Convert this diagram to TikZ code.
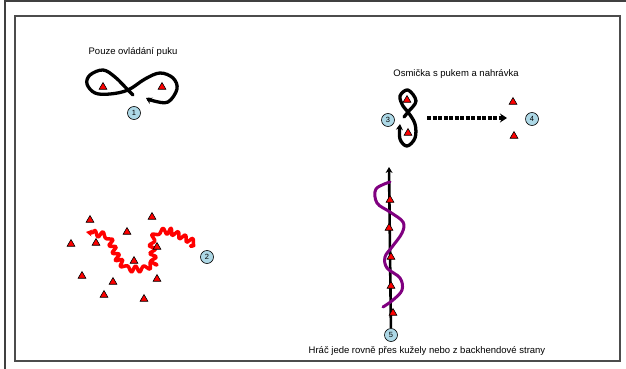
\documentclass[tikz,border=0pt]{standalone}
\usepackage{fontspec}
\setmainfont{Liberation Sans}
\usepackage{tikz}
\usetikzlibrary{shapes.geometric,arrows.meta,decorations.pathmorphing}

\definecolor{numblue}{RGB}{173,216,230}
\definecolor{stickpurple}{RGB}{128,0,128}

\tikzset{
  cone/.style={regular polygon, regular polygon sides=3, fill=red, draw=black,
    line width=0.6pt, minimum size=9pt, inner sep=0pt},
  num/.style={circle, fill=numblue, draw=black, line width=0.6pt,
    minimum size=13pt, inner sep=0pt, font=\fontsize{7.5}{7.5}\selectfont},
  caption/.style={font=\fontsize{9.5}{11}\selectfont},
  skate/.style={line width=3.3pt, line cap=round, line join=round},
}

\begin{document}
\begin{tikzpicture}[x=1pt,y=-1pt]
    \useasboundingbox (0,0) rectangle (626,369);
    % frames
    \draw[line width=2pt, black!75] (626,1) -- (5,1) -- (5,369);
    \draw[line width=2pt, black!70] (14.5,16) rectangle (620,361);

    % 1: pouze ovladani puku
    \node[caption] (t1) at (133,52) {Pouze ovládání puku};
    \draw[skate, -{Stealth[length=6pt,width=7pt]}] plot[smooth, tension=0.6] coordinates
      {(133,95) (128,90) (115,77) (103,70) (90,75) (87,84) (95,93) (110,94) (128,90)
       (145,79) (160,73) (173,78) (177,89) (168,102) (154,101) (146,98)};
    \node[cone] (c1a) at (103,87) {};
    \node[cone] (c1b) at (162,87) {};
    \node[num] (n1) at (134,113) {1};

    % 2: klicka mezi kuzely
    \draw[red, line width=3.5pt, line cap=round, line join=round,
          decorate, decoration={snake, segment length=8pt, amplitude=3pt}]
      (92,233) -- (104,235) -- (114,258) -- (122,268) -- (137,268) -- (147,262)
      -- (145,240) -- (150,232) -- (163,232) -- (193,246);
    \draw[red, -{Stealth[length=6pt,width=7pt]}, line width=3.5pt] (92,233) -- (86,232);
    \foreach \x/\y [count=\i] in {90/220, 152/217, 127/232, 71/244, 96/243, 157/247,
        134/261, 82/276, 113/282, 157/279, 104/295, 144/299}
      \node[cone] (c2\i) at (\x,\y) {};
    \node[num] (n2) at (207,257) {2};

    % 3 + 4: osmicka s pukem a nahravka
    \node[caption] (t3) at (456,74) {Osmička s pukem a nahrávka};
    \draw[skate, -{Stealth[length=6pt,width=7pt]}] plot[smooth, tension=0.6] coordinates
      {(404,117) (408,112) (416,101) (408,90) (400,96) (403,106) (408,112) (415,124)
       (415,138) (407,146) (400,139) (400,124)};
    \node[cone] (c3a) at (407,100) {};
    \node[cone] (c3b) at (408,133) {};
    \node[num] (n3) at (388,120) {3};
    \node[cone] (c4a) at (513,102) {};
    \node[cone] (c4b) at (514,136) {};
    \node[num] (n4) at (532,119) {4};
    \coordinate (p3) at (427,118);
    \coordinate (p4) at (507,118);
    \draw[line width=4pt, dash pattern=on 4pt off 1.5pt, -{Stealth[length=7pt,width=9pt]}] (p3) -- (p4);

    % 5: rovne pres kuzely
    \node[num] (n5) at (391,335) {5};
    \coordinate (top5) at (389,167);
    \draw[line width=2.6pt, -{Stealth[length=6pt,width=7pt]}] (n5) -- (top5);
    \draw[stickpurple, line width=3pt, line cap=round] plot[smooth, tension=0.6] coordinates
      {(390,182) (376,189) (377,203) (390,212) (403,222) (402,233) (392,247) (385,257)
       (387,268) (400,278) (402,290) (393,300) (383,307)};
    \foreach \x/\y [count=\i] in {390/200, 389/228, 391/257, 391/286, 393/313}
      \node[cone] (c5\i) at (\x,\y) {};
    \node[caption] (t5) at (427,351) {Hráč jede rovně přes kužely nebo z backhendové strany};
\end{tikzpicture}
\end{document}
